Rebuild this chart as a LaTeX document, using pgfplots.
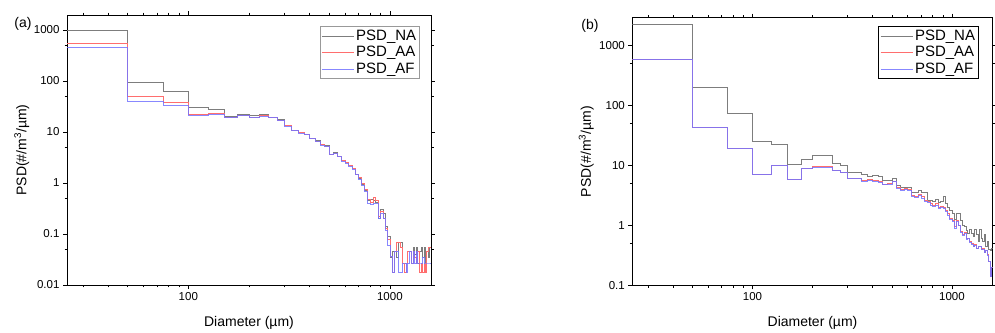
\documentclass[border=0pt]{standalone}
\usepackage{fontspec}
\setmainfont{Liberation Sans}
\usepackage{pgfplots}
\usepackage{pgfplotstable}
\pgfplotsset{compat=1.18}

\definecolor{cNA}{RGB}{125,125,125}
\definecolor{cAA}{RGB}{255,110,110}
\definecolor{cAF}{RGB}{115,115,255}

\pgfplotstableread{
d NA AA AF
25 1000 560 460
50 94 50 40.5
75 63 38 33
100 30.5 22.5 21.2
125 28 23 22.5
150 20 19.5 19
175 22 21.5 21.3
200 21 19.5 19
225 22 21.5 20.5
250 19.5 19.5 19
275 17.5 17.2 17
300 13.7 13.5 13.2
325 11 10.9 10.8
350 9.8 9.7 9.6
375 9.2 9.1 9.0
400 7.6 7.5 7.4
425 6.8 6.7 6.6
450 5.8 5.7 5.6
475 5.4 5.3 5.2
500 3.7 3.7 3.6
525 4.0 3.9 3.8
550 3.4 3.4 3.3
575 2.8 2.8 2.7
600 2.5 2.5 2.4
625 2.2 2.2 2.1
650 1.9 1.95 1.85
675 1.5 1.5 1.45
700 1.25 1.3 1.2
725 0.95 1.0 0.9
750 0.72 0.75 0.68
775 0.46 0.47 0.4
800 0.48 0.42 0.38
825 0.45 0.52 0.4
850 0.42 0.45 0.4
875 0.2 0.22 0.2
900 0.3 0.28 0.25
925 0.25 0.2 0.2
950 0.14 0.13 0.12
975 0.09 0.08 0.06
1000 0.035 0.036 0.036
1025 0.045 0.018 0.018
1050 0.045 0.045 0.045
1075 0.035 0.07 0.045
1100 0.07 0.07 0.018
1125 0.07 0.055 0.018
1150 0.027 0.027 0.027
1175 0.027 0.018 0.027
1200 0.027 0.027 0.018
1225 0.045 0.045 0.027
1250 0.045 0.045 0.045
1275 0.027 0.027 0.027
1300 0.055 0.045 0.045
1325 0.04 0.035 0.027
1350 0.055 0.027 0.045
1375 0.027 0.045 0.027
1400 0.045 0.018 0.027
1425 0.055 0.027 0.027
1450 0.035 0.018 0.035
1475 0.055 0.027 0.027
1500 0.027 0.018 0.027
1525 0.045 0.045 0.027
1550 0.035 0.055 0.027
1575 0.055 0.055 0.027
1600 0.055 0.055 0.027
}\dataA

\pgfplotstableread{
d NA AA AF
25 2300 600 600
50 202 43.5 43.5
75 74 19.4 19.4
100 25.4 7.2 7.2
125 22.3 10.1 10.1
150 10.5 5.9 5.9
175 12.9 9.0 9.0
200 14.5 9.5 9.4
225 14.5 9.5 9.4
250 10.9 8.4 8.4
275 10.1 7.7 7.7
300 7.6 6.0 6.0
325 7.6 6.2 6.1
350 7.2 5.6 5.5
375 6.6 5.8 5.6
400 6.9 5.6 5.4
425 6.5 5.4 5.2
450 5.7 4.9 4.8
475 5.6 5.0 4.9
500 6.0 5.5 5.4
525 4.6 4.3 4.2
550 4.4 4.0 3.9
575 4.4 4.1 4.0
600 4.4 4.0 3.9
625 3.6 3.2 3.1
650 3.5 3.0 2.9
675 3.8 3.3 3.2
700 3.5 3.0 2.8
725 3.6 2.6 2.5
750 2.6 2.5 2.4
775 2.6 2.3 2.2
800 2.5 2.2 2.1
825 2.7 2.3 2.2
850 2.4 2.0 1.95
875 2.5 2.1 2.0
900 3.1 2.0 1.9
925 2.3 1.8 1.75
950 2.0 1.6 1.5
975 1.8 1.3 1.25
1000 1.6 1.2 1.15
1025 1.25 0.95 0.9
1050 1.6 1.2 1.15
1075 1.6 1.0 1.0
1100 1.2 0.8 0.78
1125 1.0 0.7 0.68
1150 0.95 0.78 0.75
1175 0.82 0.6 0.58
1200 0.75 0.62 0.6
1225 0.85 0.55 0.52
1250 0.75 0.5 0.48
1275 0.65 0.45 0.44
1300 0.85 0.48 0.46
1325 0.7 0.42 0.42
1350 0.55 0.45 0.45
1375 0.85 0.45 0.44
1400 0.6 0.4 0.4
1425 0.55 0.42 0.4
1450 0.7 0.36 0.36
1475 0.45 0.38 0.38
1500 0.55 0.33 0.32
1525 0.4 0.25 0.25
1550 0.38 0.14 0.14
1575 0.42 0.2 0.2
1600 0.42 0.2 0.2
}\dataB

\pgfplotsset{
  every axis plot/.append style={const plot mark left, no marks, line width=0.65pt},
  legend image code/.code={\draw[#1] (0pt,0pt) -- (32pt,0pt);},
}

\begin{document}
\begin{tikzpicture}[x=1pt,y=1pt]
\useasboundingbox (0,0) rectangle (995,332);

\begin{axis}[
  xmode=log, ymode=log,
  scale only axis,
  xmin=25, xmax=1600,
  axis line style={line width=0.9pt},
  tick align=outside,
  xtick pos=both, ytick pos=both,
  xtick={100,1000}, xticklabels={100,1000},
  minor xtick={30,40,50,60,70,80,90,200,300,400,500,600,700,800,900},
  major tick length=4pt, minor tick length=2.5pt,
  every tick/.style={black, line width=0.7pt},
  tick label style={font=\fontsize{11.5}{13}\selectfont},
  label style={font=\fontsize{14}{16}\selectfont},
  xlabel={Diameter (µm)},
  ylabel={PSD(\#/m\textsuperscript{3}/µm)},
  legend cell align=left,
  legend style={font=\fontsize{15}{16}\selectfont, anchor=north east, inner sep=1.5pt, row sep=0.5pt, at={(0.970,0.959)}, draw=gray!80, line width=0.8pt},
  at={(67pt,47pt)}, anchor=south west,
  width=364pt, height=270pt,
  ymin=0.01, ymax=1970,
  ytick={0.01,0.1,1,10,100,1000},
  yticklabels={0.01,0.1,1,10,100,1000},
  minor ytick={0.05,0.5,5,50,500},
  xlabel style={at={(axis description cs:0.5,-0.141)}, anchor=center},
  ylabel style={at={(axis description cs:-0.124,0.5)}, anchor=center},
]
\addplot[cNA] table[x=d,y=NA] {\dataA};
\addplot[cAA] table[x=d,y=AA] {\dataA};
\addplot[cAF, opacity=0.85] table[x=d,y=AF] {\dataA};
\legend{PSD\_NA,PSD\_AA,PSD\_AF}
\end{axis}

\begin{axis}[
  xmode=log, ymode=log,
  scale only axis,
  xmin=25, xmax=1600,
  axis line style={line width=0.9pt},
  tick align=outside,
  xtick pos=both, ytick pos=both,
  xtick={100,1000}, xticklabels={100,1000},
  minor xtick={30,40,50,60,70,80,90,200,300,400,500,600,700,800,900},
  major tick length=4pt, minor tick length=2.5pt,
  every tick/.style={black, line width=0.7pt},
  tick label style={font=\fontsize{11.5}{13}\selectfont},
  label style={font=\fontsize{14}{16}\selectfont},
  xlabel={Diameter (µm)},
  ylabel={PSD(\#/m\textsuperscript{3}/µm)},
  legend cell align=left,
  legend style={font=\fontsize{15}{16}\selectfont, anchor=north east, inner sep=1.5pt, row sep=0.5pt, at={(0.962,0.969)}, draw=black, line width=1pt},
  at={(632.3pt,46.7pt)}, anchor=south west,
  width=360.4pt, height=267.6pt,
  ymin=0.1, ymax=2930,
  ytick={0.1,1,10,100,1000},
  yticklabels={0.1,1,10,100,1000},
  minor ytick={0.5,5,50,500},
  xlabel style={at={(axis description cs:0.5,-0.141)}, anchor=center},
  ylabel style={at={(axis description cs:-0.128,0.5)}, anchor=center},
]
\addplot[cNA] table[x=d,y=NA] {\dataB};
\addplot[cAA] table[x=d,y=AA] {\dataB};
\addplot[cAF, opacity=0.85] table[x=d,y=AF] {\dataB};
\legend{PSD\_NA,PSD\_AA,PSD\_AF}
\end{axis}

\node[font=\fontsize{14}{16}\selectfont] at (23,308) {(a)};
\node[font=\fontsize{14}{16}\selectfont] at (590,306) {(b)};
\end{tikzpicture}
\end{document}
